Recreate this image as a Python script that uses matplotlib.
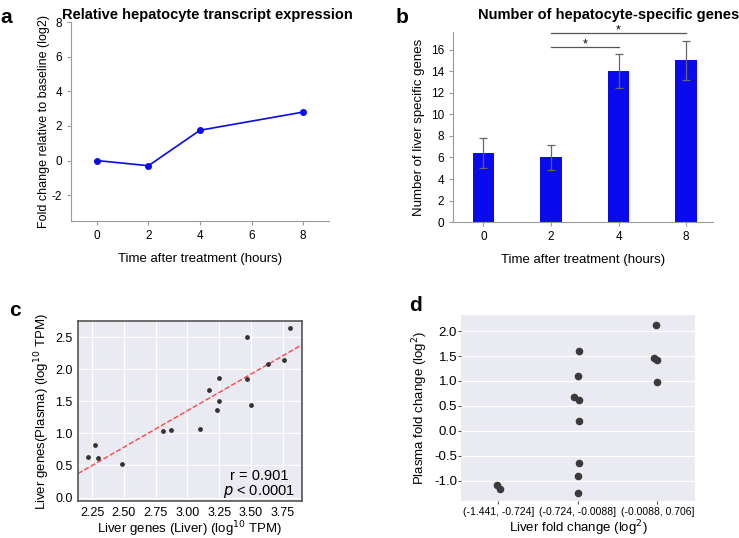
import numpy as np
import matplotlib
matplotlib.use("Agg")
import matplotlib.pyplot as plt

plt.rcParams['font.family'] = ['Liberation Sans', 'DejaVu Sans']
plt.rcParams['axes.unicode_minus'] = False

# panel a: relative hepatocyte transcript expression
hours_a = [0, 2, 4, 8]
fold_a = [0.0, -0.3, 1.75, 2.8]

# panel b: number of hepatocyte-specific genes
hours_b = ['0', '2', '4', '8']
genes_b = [6.4, 6.0, 14.0, 15.0]
genes_err = [1.4, 1.2, 1.6, 1.8]
sig_pairs = [(1, 2), (1, 3)]
sig_heights = [16.2, 17.5]

# panel c: liver vs plasma expression
liver_tpm = [2.22, 2.27, 2.30, 2.49, 2.81, 2.87, 3.10, 3.17, 3.23,
             3.25, 3.25, 3.47, 3.47, 3.50, 3.63, 3.76, 3.81]
plasma_tpm = [0.63, 0.82, 0.61, 0.53, 1.04, 1.06, 1.07, 1.67, 1.37,
              1.50, 1.87, 1.85, 2.51, 1.45, 2.08, 2.15, 2.64]

# panel d: plasma fold change per liver fold change bin
bins_d = ['(-1.441, -0.724]', '(-0.724, -0.0088]', '(-0.0088, 0.706]']
bin_idx = [0, 0, 1, 1, 1, 1, 1, 1, 1, 1, 2, 2, 2, 2]
jitter = [-0.02, 0.02, 0.02, 0.0, -0.05, 0.02, 0.01, 0.01, 0.0, 0.0,
          -0.01, -0.04, 0.0, 0.0]
plasma_fc = [-1.10, -1.165, 1.60, 1.10, 0.67, 0.62, 0.19, -0.64, -0.91,
             -1.26, 2.12, 1.46, 1.42, 0.97]

fig = plt.figure(figsize=(7.39, 5.38), dpi=100)
gray = '#9a9a9a'
blue = '#0a0aee'

# ---- a ----
ax = fig.add_axes([0.0961, 0.589, 0.349, 0.370])
ax.plot(hours_a, fold_a, color=blue, marker='o', markersize=4, linewidth=1.2)
ax.set_xlim(-1, 9)
ax.set_ylim(-3.5, 8)
ax.set_xticks([0, 2, 4, 6, 8])
ax.set_yticks([-2, 0, 2, 4, 6, 8])
for s in ['top', 'right']:
    ax.spines[s].set_visible(False)
for s in ['left', 'bottom']:
    ax.spines[s].set_color(gray)
ax.tick_params(colors=gray, labelcolor='black', labelsize=8.5, length=3)
ax.set_xlabel('Time after treatment (hours)', fontsize=9.5, labelpad=8)
ax.set_ylabel('Fold change relative to baseline (log2)', fontsize=9, labelpad=1)
fig.text(0.281, 0.985, 'Relative hepatocyte transcript expression', fontsize=10.5,
         fontweight='bold', ha='center', va='top')
fig.text(0.0, 0.985, 'a', fontsize=15, fontweight='bold', va='top')

# ---- b ----
ax = fig.add_axes([0.613, 0.587, 0.352, 0.353])
xb = np.arange(len(hours_b))
ax.bar(xb, genes_b, width=0.32, color=blue)
ax.errorbar(xb, genes_b, yerr=genes_err, fmt='none', ecolor='#666666',
            elinewidth=0.9, capsize=3, capthick=0.9)
for (i, j), h in zip(sig_pairs, sig_heights):
    ax.plot([i, j], [h, h], color='#555555', linewidth=0.9, clip_on=False)
    ax.text((i + j) / 2, h - 0.05, '*', ha='center', va='baseline', fontsize=9)
ax.set_xlim(-0.45, 3.4)
ax.set_ylim(0, 17.6)
ax.set_xticks(xb)
ax.set_xticklabels(hours_b)
ax.set_yticks(range(0, 17, 2))
for s in ['top', 'right']:
    ax.spines[s].set_visible(False)
for s in ['left', 'bottom']:
    ax.spines[s].set_color(gray)
ax.tick_params(colors=gray, labelcolor='black', labelsize=8.5, length=3)
ax.set_xlabel('Time after treatment (hours)', fontsize=9.5, labelpad=8)
ax.set_ylabel('Number of liver specific genes', fontsize=9.5)
fig.text(0.823, 0.985, 'Number of hepatocyte-specific genes', fontsize=10.5,
         fontweight='bold', ha='center', va='top')
fig.text(0.535, 0.985, 'b', fontsize=15, fontweight='bold', va='top')

# ---- c ----
ax = fig.add_axes([0.1055, 0.068, 0.303, 0.335])
ax.set_facecolor('#eaeaf2')
ax.grid(True, color='white', linewidth=0.8)
ax.set_axisbelow(True)
ax.scatter(liver_tpm, plasma_tpm, s=6, color='#333333', zorder=3)
slope, icpt = np.polyfit(liver_tpm, plasma_tpm, 1)
xl = np.array([2.14, 3.90])
ax.plot(xl, slope * xl + icpt, color='#ff4444', linestyle='--', linewidth=1, zorder=2)
ax.set_xlim(2.14, 3.90)
ax.set_ylim(-0.06, 2.75)
ax.set_xticks([2.25, 2.5, 2.75, 3.0, 3.25, 3.5, 3.75])
ax.set_yticks([0.0, 0.5, 1.0, 1.5, 2.0, 2.5])
ax.xaxis.set_major_formatter(matplotlib.ticker.FormatStrFormatter('%.2f'))
ax.yaxis.set_major_formatter(matplotlib.ticker.FormatStrFormatter('%.1f'))
for s in ax.spines.values():
    s.set_color('#555555')
    s.set_linewidth(1.2)
ax.tick_params(length=0, labelsize=9, pad=4)
ax.text(0.81, 0.143, 'r = 0.901', transform=ax.transAxes, ha='center',
        va='center', fontsize=10.5)
ax.text(0.81, 0.055, r'$p$ < 0.0001', transform=ax.transAxes, ha='center',
        va='center', fontsize=10.5)
ax.set_xlabel(r'Liver genes (Liver) (log$^{10}$ TPM)', fontsize=9.5, labelpad=0.5)
ax.set_ylabel(r'Liver genes(Plasma) (log$^{10}$ TPM)', fontsize=9.5, labelpad=2)
fig.text(0.012, 0.44, 'c', fontsize=15, fontweight='bold', va='top')

# ---- d ----
ax = fig.add_axes([0.624, 0.068, 0.317, 0.346])
ax.set_facecolor('#eaeaf2')
ax.grid(True, axis='y', color='white', linewidth=0.9)
ax.set_axisbelow(True)
ax.scatter(np.array(bin_idx) + np.array(jitter), plasma_fc, s=20,
           color='#3a3a3a', zorder=3)
ax.set_xlim(-0.47, 2.48)
ax.set_ylim(-1.42, 2.32)
ax.set_xticks(range(len(bins_d)))
ax.set_xticklabels(bins_d, fontsize=7.5)
ax.set_yticks([-1.0, -0.5, 0.0, 0.5, 1.0, 1.5, 2.0])
ax.yaxis.set_major_formatter(matplotlib.ticker.FormatStrFormatter('%.1f'))
for s in ax.spines.values():
    s.set_visible(False)
ax.tick_params(axis='y', labelsize=9.5, length=2, pad=1, colors='#555555',
               labelcolor='black')
ax.tick_params(axis='x', length=2, pad=2, colors='#555555', labelcolor='black')
ax.set_xlabel(r'Liver fold change (log$^{2}$)', fontsize=9.5, labelpad=1)
ax.set_ylabel(r'Plasma fold change (log$^{2}$)', fontsize=9.5, labelpad=3)
fig.text(0.553, 0.45, 'd', fontsize=15, fontweight='bold', va='top')

fig.savefig('out.png', dpi=100)
